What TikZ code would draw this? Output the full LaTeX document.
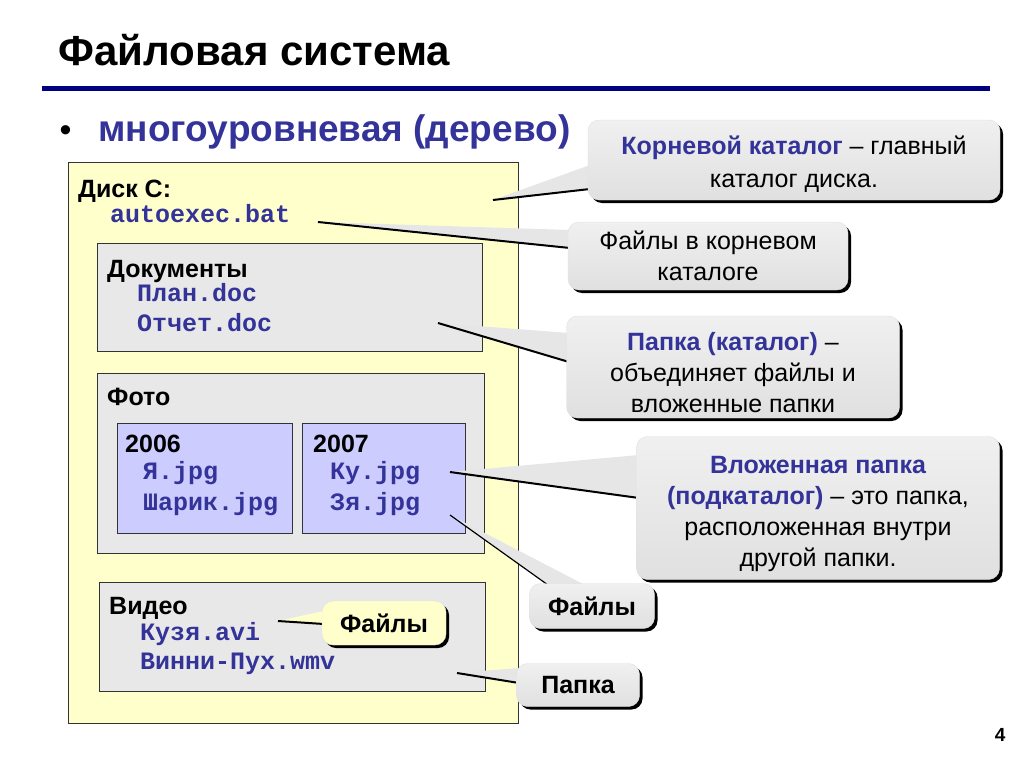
\documentclass[tikz,border=0pt]{standalone}
\usepackage{fontspec}
\setmainfont{Liberation Sans}
\setmonofont{Liberation Mono}
\usetikzlibrary{shadows,calc,positioning}
\definecolor{Navy}{HTML}{000080}
\definecolor{TxtBlue}{HTML}{333399}
\definecolor{DiskF}{HTML}{FFFFCC}
\definecolor{FolderF}{HTML}{E8E8E8}
\definecolor{SubF}{HTML}{CCCCFF}
\definecolor{CallF}{HTML}{E6E6E6}
\definecolor{CallTop}{HTML}{F0F0F0}
\definecolor{CallBot}{HTML}{E0E0E0}
\definecolor{BoxLine}{HTML}{333333}

\begin{document}
\begin{tikzpicture}[x=1pt,y=-1pt,
    ttl/.style={anchor=base west,font=\fontsize{42}{48}\selectfont\bfseries},
    sub/.style={anchor=base west,text=TxtBlue,font=\fontsize{37}{42}\selectfont\bfseries},
    box/.style={draw=BoxLine,line width=1.2pt,anchor=north west,inner sep=0pt},
    fold/.style={anchor=base west,inner sep=0pt,font=\fontsize{25}{30}\selectfont\bfseries},
    file/.style={anchor=base west,inner sep=0pt,text=TxtBlue,font=\fontsize{25}{30}\selectfont\ttfamily\bfseries},
    call/.style={rounded corners=11pt,top color=CallTop,bottom color=CallBot,draw=black!12,
      align=center,inner sep=0pt,font=\fontsize{25}{31}\selectfont,
      drop shadow={shadow xshift=3pt,shadow yshift=-3pt,fill=black,opacity=1}},
    tail/.style={fill=CallF},
    edge/.style={line width=2pt,black}]
  \useasboundingbox (0,0) rectangle (1024,768);
  % title
  \node[ttl] (title) at (55,66) {Файловая система};
  \draw[Navy,line width=5pt] (42,88) -- (990,88);
  \node[anchor=base west,font=\fontsize{34}{38}\selectfont] (bul) at (56,141) {•};
  \node[sub] (tree) at (95,141) {многоуровневая (дерево)};
  % disk and folders
  \node[box,fill=DiskF,minimum width=450pt,minimum height=561pt] (disk) at (68,162) {};
  \node[fold] (diskC) at (78,197) {Диск С:};
  \node[file] (autoexec) at (110,222) {autoexec.bat};
  \node[box,fill=FolderF,minimum width=385pt,minimum height=108pt] (docs) at (97,243) {};
  \node[fold] (docsT) at (107,277) {Документы};
  \node[file] (plan) at (137,301) {План.doc};
  \node[file] (otchet) at (137,331) {Отчет.doc};
  \node[box,fill=FolderF,minimum width=387pt,minimum height=180pt] (photo) at (97,373) {};
  \node[fold] (photoT) at (107,405) {Фото};
  \node[box,fill=SubF,minimum width=175pt,minimum height=110pt] (y06) at (117,423) {};
  \node[fold] (y06T) at (125,452) {2006};
  \node[file] (ya) at (143,479) {Я.jpg};
  \node[file] (sharik) at (143,510) {Шарик.jpg};
  \node[box,fill=SubF,minimum width=163pt,minimum height=110pt] (y07) at (302,423) {};
  \node[fold] (y07T) at (313,452) {2007};
  \node[file] (ku) at (330,479) {Ку.jpg};
  \node[file] (zya) at (330,510) {Зя.jpg};
  \node[box,fill=FolderF,minimum width=386pt,minimum height=109pt] (video) at (99,582) {};
  \node[fold] (videoT) at (109,614) {Видео};
  \node[file] (kuzya) at (140,640) {Кузя.avi};
  \node[file] (winnie) at (140,669) {Винни-Пух.wmv};
  % callout tips
  \coordinate (tRoot) at (493,200);
  \coordinate (tRootF) at (318,222);
  \coordinate (tFold) at (438,323);
  \coordinate (tSub) at (450,472);
  \coordinate (tFiles) at (450,515);
  \coordinate (tVid) at (457,673);
  \coordinate (tKuz) at (278,621);
  % tails
  \fill[tail] (tRoot) -- (590,165) -- (590,189) -- cycle;
  \draw[edge] (tRoot) -- (590,189);
  \fill[tail] (tRootF) -- (570,230) -- (570,248) -- cycle;
  \draw[edge] (tRootF) -- (570,248);
  \fill[tail] (tFold) -- (569,333) -- (569,362) -- cycle;
  \draw[edge] (tFold) -- (569,362);
  \fill[tail] (tSub) -- (639,455) -- (639,498) -- cycle;
  \draw[edge] (tSub) -- (639,498);
  \fill[tail] (tFiles) -- (585,585) -- (548,585) -- cycle;
  \draw[line width=1.2pt] (tFiles) -- (548,585);
  \fill[tail] (tVid) -- (519,668) -- (519,683) -- cycle;
  \draw[edge] (tVid) -- (519,683);
  \fill[DiskF] (tKuz) -- (324,611) -- (324,624) -- cycle;
  \draw[edge] (tKuz) -- (324,624);
  % callouts
  \node[call,minimum width=412pt,minimum height=80pt,font=\fontsize{25}{33}\selectfont] (cRoot) at (794,160)
    {\rule{0pt}{26pt}{\bfseries\color{TxtBlue}Корневой каталог} – главный\\каталог диска.};
  \node[call,minimum width=280pt,minimum height=68pt] (cRootF) at (708,256)
    {Файлы в корневом\\каталоге};
  \node[call,minimum width=333pt,minimum height=102pt] (cFold) at (733,367)
    {\rule{0pt}{30pt}{\bfseries\color{TxtBlue}Папка (каталог)} –\\объединяет файлы и\\вложенные папки};
  \node[call,minimum width=363pt,minimum height=143pt] (cSub) at (818,508)
    {\rule{0pt}{30pt}{\bfseries\color{TxtBlue}Вложенная папка}\\{\bfseries\color{TxtBlue}(подкаталог)} – это папка,\\расположенная внутри\\другой папки.};
  \node[call,minimum width=125pt,minimum height=45pt,font=\fontsize{25}{31}\selectfont\bfseries] (cFiles) at (592,606) {Файлы};
  \node[call,minimum width=123pt,minimum height=43pt,font=\fontsize{25}{31}\selectfont\bfseries] (cVid) at (578,685) {Папка};
  \node[call,top color=DiskF,bottom color=DiskF,minimum width=124pt,minimum height=44pt,
    font=\fontsize{25}{31}\selectfont\bfseries] (cKuz) at (384,623) {Файлы};
  % page number
  \node[anchor=base east,font=\fontsize{19}{22}\selectfont\bfseries] (page) at (1009,741) {4};
\end{tikzpicture}
\end{document}
